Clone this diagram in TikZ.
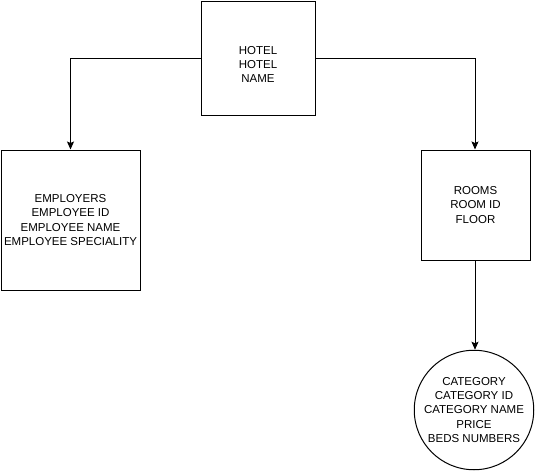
\documentclass[tikz,border=0pt]{standalone}
\usepackage{fontspec}
\setmainfont{Liberation Sans}
\usetikzlibrary{arrows.meta}
\begin{document}
\begin{tikzpicture}[x=1pt,y=-1pt,
  every node/.style={font=\fontsize{11.5}{14.4}\selectfont, align=center, inner sep=0pt},
  entity/.style={draw, line width=1pt, rectangle},
  catcircle/.style={draw, line width=1pt, circle},
  conn/.style={line width=1pt, -{Stealth[length=8pt,width=7pt,inset=1.5pt]}}]
\useasboundingbox (0,0) rectangle (536,471);
\node[entity, minimum width=114pt, minimum height=114pt] (hotel) at (258,58) {};
\node (hoteltxt) at (258,64.5) {HOTEL\\HOTEL\\NAME};
\node[entity, minimum width=139pt, minimum height=140pt] (emp) at (70.5,220) {EMPLOYERS\\EMPLOYEE ID\\EMPLOYEE NAME\\EMPLOYEE SPECIALITY};
\node[entity, minimum width=109pt, minimum height=110pt] (rooms) at (475.5,205) {ROOMS\\ROOM ID\\FLOOR};
\node[catcircle, minimum size=116pt] (cat) at (474,410) {CATEGORY\\CATEGORY ID\\CATEGORY NAME\\PRICE\\BEDS NUMBERS};
\draw[conn] (hotel.west) -| (emp.north);
\draw[conn] (hotel.east) -| ([xshift=-0.5pt]rooms.north);
\draw[conn] ([xshift=-0.5pt]rooms.south) -- ([xshift=1pt]cat.north);
\end{tikzpicture}
\end{document}
